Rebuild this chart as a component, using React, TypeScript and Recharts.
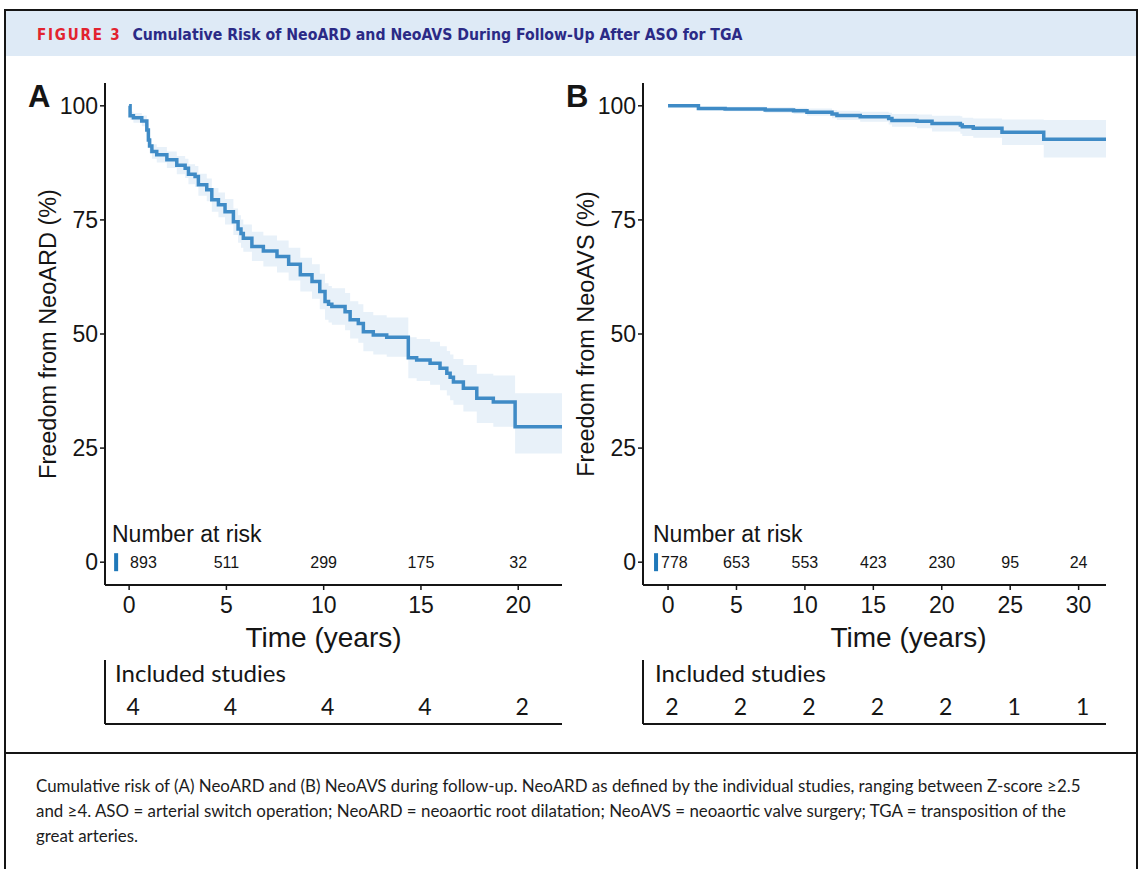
import React from 'react'
import { ComposedChart, Area, Line, Scatter, XAxis, YAxis } from 'recharts'

// ─── Panel A: freedom from NeoARD (KM estimate + 95% CI) ─────────────────────

const timeA = [
  0, 0.05, 0.22, 0.65, 0.91, 0.99, 1.05, 1.17, 1.42, 1.94, 2.45, 2.88, 3.05, 3.39,
  3.56, 3.99, 4.25, 4.59, 4.93, 5.36, 5.6, 5.75, 5.87, 6.31, 6.9, 7.6, 8.2, 8.8,
  9.4, 9.8, 10.07, 10.25, 10.42, 11.1, 11.36, 11.78, 12.04, 12.55, 13.24, 14.35,
  14.78, 15.47, 15.98, 16.33, 16.5, 16.67, 17.18, 17.87, 18.72, 19.84, 22.25,
]
const survA = [
  100, 97.8, 97.4, 96.7, 94.7, 92.5, 91.2, 90, 89.3, 88.2, 87, 86.3, 85, 84.5,
  82.7, 81.6, 79.4, 78.3, 76.8, 74.6, 73, 72, 71, 69.2, 68.2, 67, 65.3, 63,
  61.5, 59.3, 57.1, 56.5, 56, 54.9, 53.1, 52.3, 50.5, 49.8, 49.3, 44.8,
  44.3, 43.6, 42.5, 41.4, 40.5, 39.5, 38.1, 35.9, 35.1, 29.7, 29.7,
]
const lowA = [
  100, 96.9, 96.3, 95.5, 93.3, 91, 89.6, 88.4, 87.6, 86.4, 85, 84.2, 82.8, 82.2,
  80.3, 79.1, 76.8, 75.6, 74, 71.7, 70, 68.9, 68, 66, 64.8, 63.5, 61.7, 59.3,
  57.7, 55.4, 53.1, 52.5, 52, 50.8, 49, 48.1, 46.2, 45.5, 45, 40.3,
  39.7, 38.9, 37.7, 36.5, 35.5, 34.5, 33, 30.5, 29.7, 23.8, 23.8,
]
const highA = [
  100, 98.7, 98.4, 97.9, 96.1, 94, 92.8, 91.6, 91, 90, 89, 88.4, 87.2, 86.8,
  85.1, 84.1, 82, 81, 79.6, 77.5, 76, 75.1, 74, 72.4, 71.6, 70.5, 68.9, 66.7,
  65.3, 63.2, 61.1, 60.5, 60, 59, 57.2, 56.5, 54.8, 54.1, 53.6, 49.3,
  48.9, 48.3, 47.3, 46.3, 45.5, 44.5, 43.2, 41.3, 40.9, 37, 37,
]
const riskTimesA = [0, 5, 10, 15, 20]
const riskA = [893, 511, 299, 175, 32]
const studiesA = [4, 4, 4, 4, 2]

// ─── Panel B: freedom from NeoAVS ─────────────────────────────────────────────

const timeB = [
  0, 2.22, 4.17, 7.1, 9.17, 10.15, 11.98, 12.34, 14.04, 16.12, 16.36, 18.19,
  19.29, 21.36, 21.5, 22.3, 24.4, 27.45, 32,
]
const survB = [
  100, 99.4, 99.3, 99.1, 98.9, 98.6, 98.2, 97.9, 97.6, 97.2, 96.8, 96.6,
  96.1, 95.8, 95.4, 95.1, 94.2, 92.7, 92.7,
]
const lowB = [
  100, 99.0, 98.8, 98.5, 98.2, 97.8, 97.3, 96.9, 96.5, 95.9, 95.4, 95.1,
  94.4, 93.9, 93.4, 93, 91.4, 88.7, 88.7,
]
const highB = [
  100, 99.8, 99.8, 99.7, 99.6, 99.4, 99.1, 98.9, 98.7, 98.5, 98.2, 98.1,
  97.8, 97.7, 97.4, 97.2, 97.0, 96.9, 96.9,
]
const riskTimesB = [0, 5, 10, 15, 20, 25, 30]
const riskB = [778, 653, 553, 423, 230, 95, 24]
const studiesB = [2, 2, 2, 2, 2, 1, 1]

const yTicks = [0, 25, 50, 75, 100]

// ─── Styles ───────────────────────────────────────────────────────────────────

const INK = '#151515'
const LINE = '#3f8bc6'
const BAND = '#e8f1f9'
const MARK = '#1f78b9'
const SANS = '"Liberation Sans", Arial, sans-serif'
const CAL = 'Lato, "Open Sans", sans-serif'

interface PanelProps {
  yLabel: string
  time: number[]
  surv: number[]
  low: number[]
  high: number[]
  riskTimes: number[]
  risk: number[]
  studies: number[]
  xDomain: [number, number]
  left: number
  marginLeft: number
  marginRight: number
  firstDx: number
  markDx: number
  xLabelDx: number
}

function KMPanel(p: PanelProps) {
  const rows = p.time.map((t, i) => ({ t, s: p.surv[i], band: [p.low[i], p.high[i]] }))
  const riskRows = p.riskTimes.map((t, i) => ({ t, y: 0, n: p.risk[i], first: i === 0 }))
  const studyRows = p.riskTimes.map((t, i) => ({ t, y: 0.28, n: p.studies[i] }))
  const margin = { top: 83, right: p.marginRight, bottom: 45, left: p.marginLeft }

  return (
    <>
      {/* Survival curve with CI band and risk numbers */}
      <div style={{ position: 'absolute', left: p.left, top: 0 }}>
        <ComposedChart width={580} height={660} data={rows} margin={margin}>
          <XAxis
            type="number"
            dataKey="t"
            domain={p.xDomain}
            allowDataOverflow
            ticks={p.riskTimes}
            height={30}
            tickSize={5}
            tickMargin={7}
            axisLine={{ stroke: INK, strokeWidth: 2 }}
            tickLine={{ stroke: INK, strokeWidth: 1.5 }}
            tick={{ fontSize: 23, fill: INK, fontFamily: SANS }}
            label={(lp: any) => {
              const vb = lp.viewBox
              return (
                <text
                  x={vb.x + vb.width / 2 + p.xLabelDx}
                  y={637}
                  textAnchor="middle"
                  dominantBaseline="central"
                  fontSize={28}
                  fontFamily={SANS}
                  fill={INK}
                >
                  Time (years)
                </text>
              )
            }}
          />
          <YAxis
            type="number"
            domain={[-5, 105]}
            allowDataOverflow
            ticks={yTicks}
            width={60}
            tickSize={5}
            tickMargin={2}
            axisLine={{ stroke: INK, strokeWidth: 2 }}
            tickLine={{ stroke: INK, strokeWidth: 1.5 }}
            tick={{ fontSize: 23, fill: INK, fontFamily: SANS }}
            label={(lp: any) => {
              const vb = lp.viewBox
              const x = vb.x + 3
              const y = vb.y + vb.height / 2
              return (
                <text
                  x={x}
                  y={y}
                  transform={`rotate(-90, ${x}, ${y})`}
                  textAnchor="middle"
                  dominantBaseline="central"
                  fontSize={23.5}
                  fontFamily={SANS}
                  fill={INK}
                >
                  {p.yLabel}
                </text>
              )
            }}
          />
          <Area
            type="stepAfter"
            dataKey="band"
            fill={BAND}
            fillOpacity={1}
            stroke="none"
            isAnimationActive={false}
          />
          <Line
            type="stepAfter"
            dataKey="s"
            stroke={LINE}
            strokeWidth={3.5}
            dot={false}
            isAnimationActive={false}
          />
          <Scatter
            data={riskRows}
            dataKey="y"
            isAnimationActive={false}
            shape={(sp: any) => {
              const { cx, cy, payload } = sp
              if (payload.first) {
                return (
                  <g>
                    <rect x={cx + p.markDx} y={cy - 9} width={4} height={18} fill={MARK} />
                    <text
                      x={cx + p.firstDx}
                      y={cy}
                      textAnchor="start"
                      dominantBaseline="central"
                      fontSize={16}
                      fontFamily={SANS}
                      fill={INK}
                    >
                      {payload.n}
                    </text>
                  </g>
                )
              }
              return (
                <text
                  x={cx}
                  y={cy}
                  textAnchor="middle"
                  dominantBaseline="central"
                  fontSize={16}
                  fontFamily={SANS}
                  fill={INK}
                >
                  {payload.n}
                </text>
              )
            }}
          />
        </ComposedChart>
      </div>

      {/* Included studies row, same x scale */}
      <div style={{ position: 'absolute', left: p.left, top: 650 }}>
        <ComposedChart
          width={580}
          height={80}
          margin={{ top: 10, right: p.marginRight, bottom: 0, left: p.marginLeft }}
        >
          <XAxis
            type="number"
            dataKey="t"
            domain={p.xDomain}
            allowDataOverflow
            height={6}
            tick={false}
            tickLine={false}
            axisLine={{ stroke: INK, strokeWidth: 2 }}
          />
          <YAxis
            type="number"
            domain={[0, 1]}
            width={60}
            tick={false}
            tickLine={false}
            axisLine={{ stroke: INK, strokeWidth: 2 }}
          />
          <Scatter
            data={studyRows}
            dataKey="y"
            isAnimationActive={false}
            shape={(sp: any) => (
              <text
                x={sp.cx + 4}
                y={sp.cy}
                textAnchor="middle"
                dominantBaseline="central"
                fontSize={23}
                fontFamily={CAL}
                fill={INK}
              >
                {sp.payload.n}
              </text>
            )}
          />
        </ComposedChart>
      </div>
    </>
  )
}

export default function App() {
  const textDiv = (left: number, top: number, size: number, extra: React.CSSProperties = {}) => ({
    position: 'absolute' as const,
    left,
    top,
    fontSize: size,
    lineHeight: `${size}px`,
    whiteSpace: 'nowrap' as const,
    color: INK,
    fontFamily: SANS,
    ...extra,
  })

  return (
    <div
      style={{
        position: 'absolute',
        left: 0,
        top: 0,
        width: 1143,
        height: 869,
        background: '#fff',
        overflow: 'hidden',
      }}
    >
      {/* Frame */}
      <div
        style={{
          position: 'absolute',
          left: 4,
          top: 9,
          width: 1134,
          height: 900,
          border: `2px solid ${INK}`,
          boxSizing: 'border-box',
        }}
      />
      {/* Header band */}
      <div
        style={{
          position: 'absolute',
          left: 6,
          top: 11,
          width: 1130,
          height: 45,
          background: '#deeaf6',
        }}
      />
      <div
        style={{
          position: 'absolute',
          left: 37,
          top: 25,
          whiteSpace: 'nowrap',
          fontFamily: '"DejaVu Sans Condensed", "DejaVu Sans", sans-serif',
          fontStretch: 'condensed',
          fontWeight: 700,
          lineHeight: '20px',
        }}
      >
        <span style={{ color: '#e2232f', letterSpacing: 1.8, fontSize: 15 }}>FIGURE 3</span>
        <span style={{ color: '#2b2a86', marginLeft: 11, fontSize: 15.7 }}>
          Cumulative Risk of NeoARD and NeoAVS During Follow-Up After ASO for TGA
        </span>
      </div>

      <KMPanel
        yLabel="Freedom from NeoARD (%)"
        time={timeA}
        surv={survA}
        low={lowA}
        high={highA}
        riskTimes={riskTimesA}
        risk={riskA}
        studies={studiesA}
        xDomain={[-1.24, 22.25]}
        left={0}
        marginLeft={45}
        marginRight={18}
        firstDx={1}
        markDx={-15}
        xLabelDx={-10}
      />
      <KMPanel
        yLabel="Freedom from NeoAVS (%)"
        time={timeB}
        surv={survB}
        low={lowB}
        high={highB}
        riskTimes={riskTimesB}
        risk={riskB}
        studies={studiesB}
        xDomain={[-1.83, 32.0]}
        left={540}
        marginLeft={43}
        marginRight={14}
        firstDx={-7}
        markDx={-14}
        xLabelDx={34}
      />

      {/* Panel letters and table headings */}
      <div style={textDiv(28, 81, 31, { fontWeight: 700 })}>A</div>
      <div style={textDiv(566, 81, 31, { fontWeight: 700 })}>B</div>
      <div style={textDiv(112, 523, 23)}>Number at risk</div>
      <div style={textDiv(653, 523, 23)}>Number at risk</div>
      <div style={textDiv(115, 661, 24, { fontFamily: CAL })}>Included studies</div>
      <div style={textDiv(655, 661, 24, { fontFamily: CAL })}>Included studies</div>

      {/* Caption */}
      <div
        style={{
          position: 'absolute',
          left: 6,
          top: 752,
          width: 1130,
          borderTop: `2px solid ${INK}`,
        }}
      />
      <div
        style={{
          position: 'absolute',
          left: 36,
          top: 773,
          fontFamily: CAL,
          fontSize: 16.9,
          lineHeight: '25px',
          color: '#1c1c1c',
          whiteSpace: 'nowrap',
        }}
      >
        <div>
          Cumulative risk of (A) NeoARD and (B) NeoAVS during follow-up. NeoARD as defined by the individual studies, ranging between Z-score ≥2.5
        </div>
        <div>
          and ≥4. ASO = arterial switch operation; NeoARD = neoaortic root dilatation; NeoAVS = neoaortic valve surgery; TGA = transposition of the
        </div>
        <div>great arteries.</div>
      </div>
    </div>
  )
}
